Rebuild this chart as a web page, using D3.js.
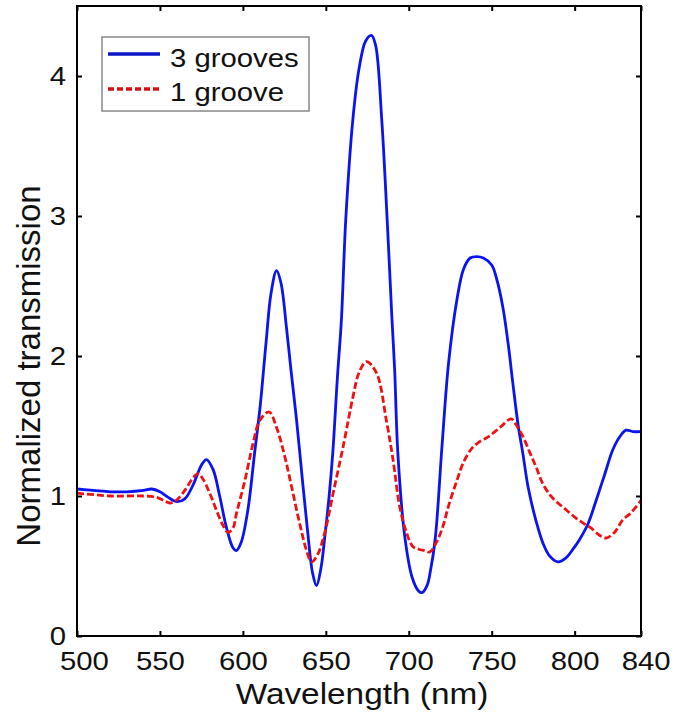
<!DOCTYPE html>
<html>
<head>
<meta charset="utf-8">
<script src="https://cdn.jsdelivr.net/npm/d3@7"></script>
<style>
    body { margin: 0; background: #fff; }
    svg { font-family: "Liberation Sans", Arial, sans-serif; }
</style>
</head>
<body>
<svg id="chart" width="674" height="719"></svg>
<script>
'use strict'

// wavelength (nm) / normalized transmission
var wl3 = [500, 510, 520, 530, 540, 545, 550, 555, 560, 565, 570, 575, 578, 582, 586, 590, 594, 596, 599, 603,
           607, 610.5, 614, 617, 620.3, 623, 626.3, 629, 632.3, 636, 639, 642, 644.4, 647, 649.4, 652, 654.2, 657,
           659.4, 662, 666.3, 670, 674, 677.5, 680, 683.7, 687, 689.8, 691.5, 693.4, 697.6, 702, 706, 708, 711,
           713, 716, 720, 724, 729, 733, 737, 741, 745, 750, 753, 756.7, 760, 762.7, 766, 768.7, 772, 777, 781,
           785, 789.8, 795, 799, 803, 808, 813, 818, 823, 827, 831, 835, 840];
var grooves3 = [1.05, 1.04, 1.03, 1.03, 1.04, 1.05, 1.03, 0.99, 0.96, 0.98, 1.08, 1.22, 1.26, 1.19, 1.00, 0.78, 0.63, 0.61, 0.67, 0.90,
                1.30, 1.65, 2.10, 2.45, 2.61, 2.52, 2.20, 1.90, 1.55, 1.10, 0.75, 0.45, 0.36, 0.48, 0.71, 1.00, 1.31, 1.85,
                2.26, 2.97, 3.69, 4.05, 4.25, 4.29, 4.22, 3.69, 2.97, 2.28, 1.90, 1.31, 0.71, 0.42, 0.32, 0.31, 0.36,
                0.46, 0.70, 1.35, 1.95, 2.40, 2.62, 2.70, 2.71, 2.70, 2.65, 2.55, 2.35, 2.08, 1.81, 1.50, 1.31, 1.06, 0.81, 0.66,
                0.57, 0.53, 0.56, 0.62, 0.69, 0.80, 0.97, 1.15, 1.33, 1.42, 1.47, 1.46, 1.46];

var wl1 = [500, 510, 520, 530, 540, 548, 552, 556, 560, 565, 570, 573, 576, 580, 584, 588, 591, 594, 596.2, 601.2,
           606.2, 610.2, 615.8, 620.3, 625.3, 629.3, 634.3, 638.4, 641.4, 645, 649.4, 654.4, 660.4, 666.4, 670, 674.5,
           680.5, 686.5, 690.5, 694.6, 698.6, 702.4, 706, 709.6, 712.6, 716.7, 720.5, 724, 729, 733, 738, 743,
           747.6, 752, 756, 759.6, 762, 765.7, 769, 773, 777, 780.7, 785, 789, 795, 801, 806, 810, 815, 819, 824,
           829, 834, 840];
var groove1 = [1.02, 1.01, 1.00, 1.00, 1.00, 0.99, 0.97, 0.95, 0.97, 1.04, 1.13, 1.16, 1.12, 1.02, 0.90, 0.79, 0.74, 0.77, 0.88, 1.11,
               1.38, 1.54, 1.60, 1.49, 1.28, 1.07, 0.80, 0.61, 0.53, 0.58, 0.74, 1.02, 1.35, 1.71, 1.88, 1.96,
               1.88, 1.54, 1.26, 0.92, 0.74, 0.64, 0.62, 0.61, 0.60, 0.67, 0.78, 0.93, 1.11, 1.24, 1.34, 1.39,
               1.42, 1.46, 1.50, 1.54, 1.55, 1.49, 1.42, 1.31, 1.20, 1.09, 1.01, 0.96, 0.90, 0.84, 0.80, 0.77, 0.72, 0.70, 0.74,
               0.83, 0.88, 0.97];

var xTicks = [500, 550, 600, 650, 700, 750, 800, 840];
var yTicks = [0, 1, 2, 3, 4];
var seriesNames = ["3 grooves", "1 groove"];

var mLeft = 77, mRight = 641, mTop = 6, mBottom = 636;
var stretch = "scale(1.15,1)";   // the original's lettering is a bit wide

var svg = d3.select("#chart");

var x = d3.scaleLinear().domain([500, 840]).range([mLeft, mRight]);
var y = d3.scaleLinear().domain([0, 4.5]).range([mBottom, mTop]);

// axes, ticks pointing inward on all four sides
var xAxisG = svg.append("g")
    .attr("transform", "translate(0," + mBottom + ")")
    .call(d3.axisBottom(x).tickValues(xTicks).tickSizeInner(-5).tickSizeOuter(0).tickPadding(16).tickFormat(d3.format("d")))
    .call(g => g.select(".domain").remove());

svg.append("g")
    .attr("transform", "translate(0," + mTop + ")")
    .call(d3.axisTop(x).tickValues(xTicks).tickSizeInner(-5).tickSizeOuter(0).tickFormat(""))
    .call(g => g.select(".domain").remove());

svg.append("g")
    .attr("transform", "translate(" + mLeft + ",0)")
    .call(d3.axisLeft(y).tickValues(yTicks).tickSizeInner(-5).tickSizeOuter(0).tickPadding(9.5).tickFormat(d3.format("d")))
    .call(g => g.select(".domain").remove());

svg.append("g")
    .attr("transform", "translate(" + mRight + ",0)")
    .call(d3.axisRight(y).tickValues(yTicks).tickSizeInner(-5).tickSizeOuter(0).tickFormat(""))
    .call(g => g.select(".domain").remove());

svg.selectAll(".tick line").attr("stroke", "#000").attr("stroke-width", 2);
svg.selectAll(".tick text")
    .attr("font-size", 25.5)
    .attr("fill", "#111")
    .attr("font-family", "'Liberation Sans', Arial, sans-serif")
    .attr("transform", stretch);

// end labels sit a little off their ticks in the original
xAxisG.selectAll(".tick text")
    .attr("dx", function(d){ return d == 500 ? 6 : (d == 840 ? 4 : 0); });

// curves
var line = d3.line()
    .x(function(d){ return x(d[0]); })
    .y(function(d){ return y(d[1]); })
    .curve(d3.curveCatmullRom.alpha(0.5));

var data3 = wl3.map(function(w, i){ return [w, grooves3[i]]; });
var data1 = wl1.map(function(w, i){ return [w, groove1[i]]; });

svg.append("path")
    .datum(data3)
    .attr("d", line)
    .attr("fill", "none")
    .attr("stroke", "#0a14f0")
    .attr("stroke-width", 2.8);

svg.append("path")
    .datum(data1)
    .attr("d", line)
    .attr("fill", "none")
    .attr("stroke", "#ee1111")
    .attr("stroke-width", 2.8)
    .attr("stroke-dasharray", "7,3");

// frame
svg.append("rect")
    .attr("x", mLeft)
    .attr("y", mTop)
    .attr("width", mRight - mLeft)
    .attr("height", mBottom - mTop)
    .attr("fill", "none")
    .attr("stroke", "#000")
    .attr("stroke-width", 2);

// legend
var lg = svg.append("g");
lg.append("rect")
    .attr("x", 102).attr("y", 37)
    .attr("width", 207).attr("height", 74)
    .attr("fill", "#fff")
    .attr("stroke", "#888")
    .attr("stroke-width", 1.5);

lg.append("line")
    .attr("x1", 108).attr("x2", 160).attr("y1", 54).attr("y2", 54)
    .attr("stroke", "#0a14c8").attr("stroke-width", 3.5);
lg.append("line")
    .attr("x1", 108).attr("x2", 160).attr("y1", 89).attr("y2", 89)
    .attr("stroke", "#d81010").attr("stroke-width", 3.5)
    .attr("stroke-dasharray", "6,3");

lg.selectAll("text.lab")
    .data(seriesNames)
    .enter().append("text")
    .attr("class", "lab")
    .attr("transform", function(d, i){ return "translate(170," + (67 + i * 34) + ") " + stretch; })
    .attr("font-size", 25.5)
    .attr("fill", "#111")
    .text(function(d){ return d; });

// axis titles
svg.append("text")
    .attr("transform", "translate(362,704) " + stretch)
    .attr("text-anchor", "middle")
    .attr("font-size", 29)
    .attr("fill", "#111")
    .text("Wavelength (nm)");

svg.append("text")
    .attr("transform", "translate(40,366) rotate(-90)")
    .attr("text-anchor", "middle")
    .attr("font-size", 33)
    .attr("fill", "#111")
    .text("Normalized transmission");
</script>
</body>
</html>
